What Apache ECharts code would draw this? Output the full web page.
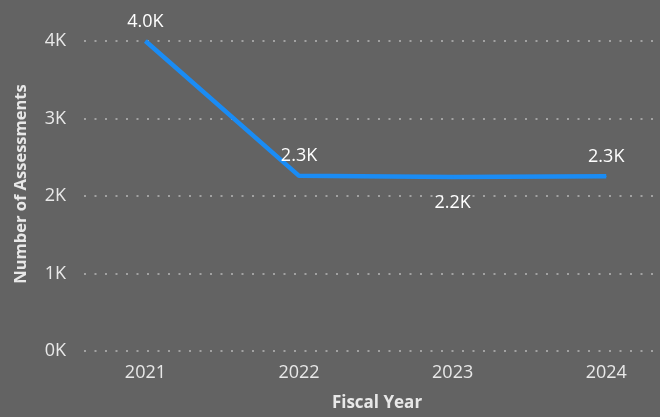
<!DOCTYPE html>
<html><head><meta charset="utf-8">
<script src="https://cdn.jsdelivr.net/npm/echarts@6/dist/echarts.min.js"></script>
<style>html,body{margin:0;padding:0;background:#636363;}#c{width:660px;height:417px;}</style>
</head><body><div id="c"></div>
<script>
const years = [2021, 2022, 2023, 2024];
const assessments = [4000, 2260, 2245, 2255];
const yTicks = [0, 1000, 2000, 3000, 4000];
const labelPos = ['top', 'top', 'bottom', 'top'];
const labelDist = [10, 10, 16, 10];

const chart = echarts.init(document.getElementById('c'));
const font = '"Open Sans", "DejaVu Sans", sans-serif';
chart.setOption({
  backgroundColor: '#636363',
  animation: false,
  grid: { left: 84, right: 0, top: 41, bottom: 64, containLabel: false },
  xAxis: {
    type: 'value', min: 2020.6, max: 2024.35,
    axisLine: { show: false }, axisTick: { show: false }, splitLine: { show: false },
    axisLabel: { customValues: years, color: '#e8e8e8', fontSize: 18, fontFamily: font, margin: 13,
      formatter: v => String(Math.round(v)) },
    name: 'Fiscal Year', nameLocation: 'middle', nameGap: 44,
    nameTextStyle: { color: '#e8e8e8', fontSize: 17, fontWeight: 'bold', fontFamily: font,
      padding: [0, 0, 0, 10] }
  },
  yAxis: {
    type: 'value', min: 0, max: 4000, interval: 1000,
    axisLine: { show: false }, axisTick: { show: false },
    splitLine: { lineStyle: { color: '#a2a2a2', type: [2, 8.5], width: 2 } },
    axisLabel: { color: '#e8e8e8', fontSize: 18, fontFamily: font, margin: 18,
      formatter: v => (v / 1000) + 'K' }
  },
  graphic: [{
    type: 'text', x: 21, y: 184, rotation: Math.PI / 2,
    style: { text: 'Number of Assessments', fill: '#e8e8e8', fontSize: 16.5, fontWeight: 'bold',
      fontFamily: font, align: 'center', verticalAlign: 'middle' }
  }],
  series: [{
    type: 'line',
    data: years.map((y, i) => ({ value: [y, assessments[i]],
      label: { position: labelPos[i], distance: labelDist[i] } })),
    symbol: 'circle', symbolSize: 1, showSymbol: true, clip: false,
    itemStyle: { color: '#1A8CF5' },
    lineStyle: { color: '#1A8CF5', width: 4.5 },
    label: { show: true, color: '#ffffff', fontSize: 18, fontFamily: font,
      formatter: p => (p.value[1] / 1000).toFixed(1) + 'K' }
  }]
});
</script></body></html>
